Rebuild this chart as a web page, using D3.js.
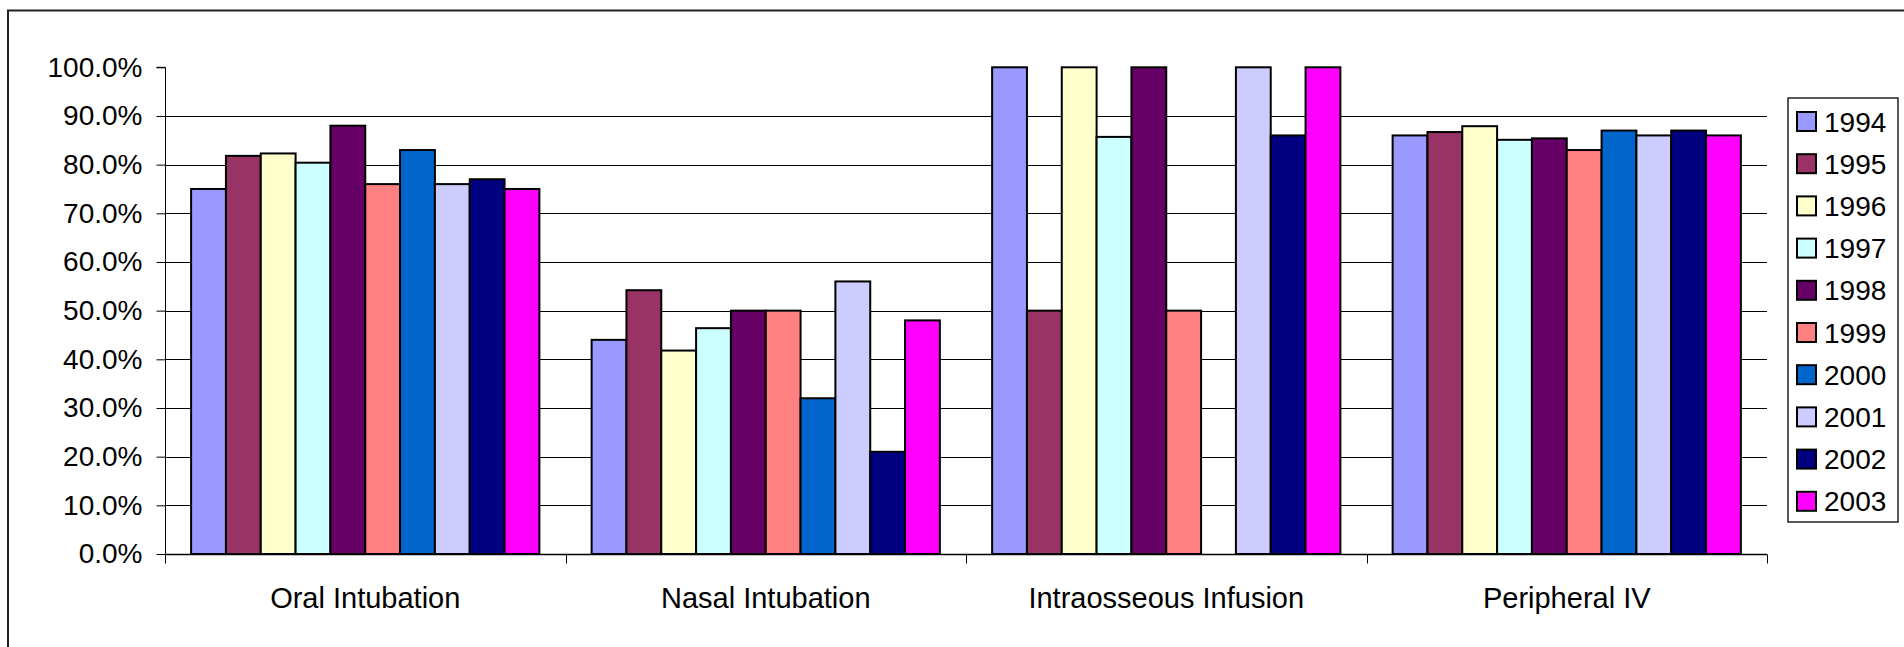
<!DOCTYPE html>
<html>
<head>
<meta charset="utf-8">
<script src="https://cdn.jsdelivr.net/npm/d3@7"></script>
<style>
  html, body { margin: 0; padding: 0; background: #fff; }
  svg { display: block; }
  text { font-family: "Liberation Sans", Arial, sans-serif; fill: #000; }
</style>
</head>
<body>
<svg id="chart" width="1904" height="647"></svg>
<script>
// ---- data ----
const categories = ["Oral Intubation", "Nasal Intubation", "Intraosseous Infusion", "Peripheral IV"];
const years = ["1994", "1995", "1996", "1997", "1998", "1999", "2000", "2001", "2002", "2003"];
const colors = ["#9999FF", "#993366", "#FFFFCC", "#CCFFFF", "#660066", "#FF8080", "#0066CC", "#CCCCFF", "#000080", "#FF00FF"];
// values per year, in category order
const v1994 = [0.750, 0.440, 1.000, 0.860];
const v1995 = [0.818, 0.542, 0.500, 0.867];
const v1996 = [0.823, 0.418, 1.000, 0.879];
const v1997 = [0.804, 0.464, 0.857, 0.851];
const v1998 = [0.880, 0.500, 1.000, 0.854];
const v1999 = [0.760, 0.500, 0.500, 0.830];
const v2000 = [0.830, 0.320, null,  0.870];
const v2001 = [0.760, 0.560, 1.000, 0.860];
const v2002 = [0.770, 0.210, 0.860, 0.870];
const v2003 = [0.750, 0.480, 1.000, 0.860];
const seriesValues = [v1994, v1995, v1996, v1997, v1998, v1999, v2000, v2001, v2002, v2003];
const yTicks = [0, 0.1, 0.2, 0.3, 0.4, 0.5, 0.6, 0.7, 0.8, 0.9, 1.0];

// ---- layout ----
const svg = d3.select("#chart");
const plot = { left: 165, right: 1767, top: 67.3, bottom: 554 };

// outer chart border
svg.append("rect")
  .attr("x", 8).attr("y", 10.5)
  .attr("width", 1940).attr("height", 700)
  .attr("fill", "none").attr("stroke", "#222").attr("stroke-width", 2);

const x = d3.scaleBand().domain(categories).range([plot.left, plot.right]).paddingInner(0).paddingOuter(0);
const xi = d3.scaleBand().domain(years).range([0, x.bandwidth()]).paddingInner(0).paddingOuter(0.75);
const y = d3.scaleLinear().domain([0, 1]).range([plot.bottom, plot.top]);

// gridlines (10%..90%)
svg.append("g").selectAll("line")
  .data(yTicks.filter(t => t > 0 && t < 1))
  .join("line")
  .attr("x1", plot.left).attr("x2", plot.right)
  .attr("y1", d => Math.round(y(d)) + 0.5).attr("y2", d => Math.round(y(d)) + 0.5)
  .attr("stroke", "#000").attr("stroke-width", 1);

// bars
const barData = [];
seriesValues.forEach((vals, si) => {
  vals.forEach((v, ci) => {
    if (v !== null) barData.push({ year: years[si], cat: categories[ci], v, color: colors[si] });
  });
});
svg.append("g").selectAll("rect")
  .data(barData)
  .join("rect")
  .attr("x", d => x(d.cat) + xi(d.year))
  .attr("y", d => y(d.v))
  .attr("width", xi.bandwidth())
  .attr("height", d => y(0) - y(d.v))
  .attr("fill", d => d.color)
  .attr("stroke", "#000")
  .attr("stroke-width", 2);

// y axis
const yAxis = d3.axisLeft(y).tickValues(yTicks).tickFormat(d3.format(".1%")).tickSize(9).tickPadding(14);
const gy = svg.append("g").attr("transform", `translate(${plot.left + 0.5},0)`).call(yAxis);
gy.select(".domain").attr("stroke", "#000").attr("stroke-width", 1).attr("d", `M-9,${y(1)}H0V${plot.bottom}`);
gy.selectAll(".tick line").attr("stroke", "#000");
gy.selectAll(".tick text").style("font-size", "28px").style("font-family", '"Liberation Sans", Arial, sans-serif').attr("fill", "#000");

// x axis
const gx = svg.append("g").attr("transform", `translate(0,${plot.bottom + 0.5})`);
gx.append("line").attr("x1", plot.left).attr("x2", plot.right).attr("y1", 0).attr("y2", 0)
  .attr("stroke", "#000").attr("stroke-width", 1.5);
const boundaries = categories.map(c => x(c)).concat([plot.right]);
gx.selectAll("line.tick").data(boundaries).join("line").attr("class", "tick")
  .attr("x1", d => Math.round(d) + 0.5).attr("x2", d => Math.round(d) + 0.5)
  .attr("y1", 0).attr("y2", 9).attr("stroke", "#000").attr("stroke-width", 1);
gx.selectAll("text").data(categories).join("text")
  .attr("x", d => x(d) + x.bandwidth() / 2)
  .attr("y", 53)
  .attr("text-anchor", "middle")
  .style("font-size", "29px")
  .text(d => d);

// legend
const legend = svg.append("g");
legend.append("rect")
  .attr("x", 1788).attr("y", 98).attr("width", 110).attr("height", 424)
  .attr("fill", "#fff").attr("stroke", "#222").attr("stroke-width", 1.5);
const items = legend.selectAll("g.item").data(years).join("g").attr("class", "item")
  .attr("transform", (d, i) => `translate(1797, ${121.5 + i * 42.2})`);
items.append("rect").attr("x", 0).attr("y", -9.5).attr("width", 19).attr("height", 19)
  .attr("fill", (d, i) => colors[i]).attr("stroke", "#000").attr("stroke-width", 2);
items.append("text").attr("x", 27).attr("y", 0).attr("dy", "0.36em")
  .style("font-size", "28px").text(d => d);
</script>
</body>
</html>
